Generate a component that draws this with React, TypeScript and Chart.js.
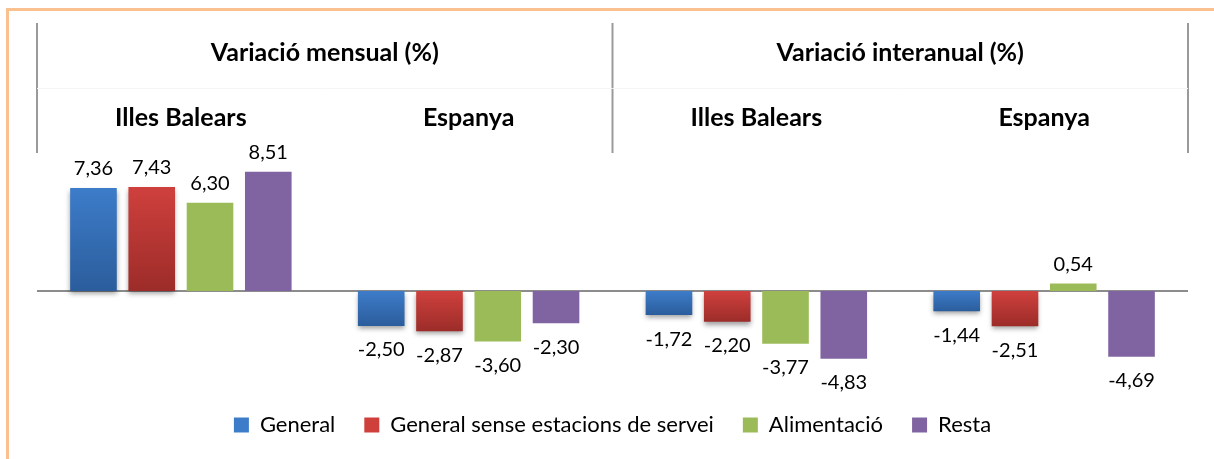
import React, { useEffect, useRef } from "react";
import { Chart, registerables } from "chart.js";

Chart.register(...registerables);

// ---- Data ----
const sections = ["Variació mensual (%)", "Variació interanual (%)"];
const groups = ["Illes Balears", "Espanya", "Illes Balears", "Espanya"];
const seriesNames = ["General", "General sense estacions de servei", "Alimentació", "Resta"];
const general = [7.36, -2.5, -1.72, -1.44];
const generalSense = [7.43, -2.87, -2.2, -2.51];
const alimentacio = [6.3, -3.6, -3.77, 0.54];
const resta = [8.51, -2.3, -4.83, -4.69];

const FONT = "Lato, 'Open Sans', sans-serif";

function grad(top: string, bottom: string) {
  return (c: any) => {
    const chart = c.chart;
    const y = chart.scales && chart.scales.y;
    if (!y || c.type !== "data") return top;
    const v = c.raw as number;
    const p0 = y.getPixelForValue(0);
    const p1 = y.getPixelForValue(v);
    const a = Math.min(p0, p1);
    const b = Math.max(p0, p1);
    if (!isFinite(a) || !isFinite(b) || b - a < 1) return top;
    const g = chart.ctx.createLinearGradient(0, a, 0, b);
    g.addColorStop(0, top);
    g.addColorStop(1, bottom);
    return g;
  };
}

const fmt = (v: number) => v.toFixed(2).replace(".", ",");

const decorPlugin = {
  id: "decor",
  beforeDraw(chart: any) {
    const { ctx, chartArea, scales } = chart;
    const x = scales.x;
    ctx.save();
    // orange frame
    ctx.strokeStyle = "#FAC090";
    ctx.lineWidth = 3;
    ctx.strokeRect(7.5, 9.5, 1400, 800);
    // header vertical lines
    const left = chartArea.left;
    const right = chartArea.right;
    const mid = (x.getPixelForValue(1) + x.getPixelForValue(2)) / 2;
    ctx.strokeStyle = "#9a9a9a";
    ctx.lineWidth = 2;
    [left, mid, right].forEach((px) => {
      ctx.beginPath();
      ctx.moveTo(px, 23);
      ctx.lineTo(px, 153);
      ctx.stroke();
    });
    ctx.strokeStyle = "#f5f5f5";
    ctx.lineWidth = 1;
    ctx.beginPath();
    ctx.moveTo(left, 88.5);
    ctx.lineTo(right, 88.5);
    ctx.stroke();
    // header text
    ctx.fillStyle = "#000";
    ctx.textAlign = "center";
    ctx.textBaseline = "middle";
    ctx.font = "bold 25px " + FONT;
    ctx.fillText(sections[0], (left + mid) / 2, 53);
    ctx.fillText(sections[1], (mid + right) / 2, 53);
    groups.forEach((g, i) => {
      ctx.fillText(g, x.getPixelForValue(i), 118);
    });
    ctx.restore();
  },
  beforeDatasetsDraw(chart: any) {
    const { ctx, chartArea, scales } = chart;
    const y0 = scales.y.getPixelForValue(0);
    ctx.save();
    ctx.strokeStyle = "#8c8c8c";
    ctx.lineWidth = 2;
    ctx.beginPath();
    ctx.moveTo(chartArea.left, y0);
    ctx.lineTo(chartArea.right, y0);
    ctx.stroke();
    ctx.restore();
  },
  beforeDatasetDraw(chart: any, args: any) {
    if (args.index < 2) {
      const ctx = chart.ctx;
      ctx.save();
      ctx.shadowColor = "rgba(0,0,0,0.38)";
      ctx.shadowBlur = 5;
      ctx.shadowOffsetX = 0;
      ctx.shadowOffsetY = 3;
    }
  },
  afterDatasetDraw(chart: any, args: any) {
    if (args.index < 2) chart.ctx.restore();
  },
  afterDatasetsDraw(chart: any) {
    const { ctx } = chart;
    ctx.save();
    ctx.fillStyle = "#000";
    ctx.font = "20px " + FONT;
    ctx.textAlign = "center";
    ctx.textBaseline = "middle";
    chart.data.datasets.forEach((ds: any, di: number) => {
      const meta = chart.getDatasetMeta(di);
      meta.data.forEach((el: any, i: number) => {
        const v = ds.data[i] as number;
        const ty = v >= 0 ? el.y - 19 : el.y + 24;
        ctx.fillText(fmt(v), el.x, ty);
      });
    });
    ctx.restore();
  },
};

export default function App() {
  const ref = useRef<HTMLCanvasElement>(null);
  useEffect(() => {
    document.body.style.margin = "0";
    if (!ref.current) return;
    const colors = [
      ["#3D7CC9", "#2B5D9C"],
      ["#CF403D", "#9C2C29"],
      ["#9BBB59", "#9BBB59"],
      ["#8064A2", "#8064A2"],
    ];
    const values = [general, generalSense, alimentacio, resta];
    const chart = new Chart(ref.current, {
      type: "bar",
      data: {
        labels: groups,
        datasets: values.map((d, i) => ({
          label: seriesNames[i],
          data: d,
          backgroundColor: grad(colors[i][0], colors[i][1]),
          borderWidth: 0,
          categoryPercentage: 0.81,
          barPercentage: 0.8,
        })),
      },
      options: {
        responsive: false,
        animation: false,
        layout: { padding: { left: 37, right: 26, top: 151, bottom: 13 } },
        scales: {
          x: { display: false },
          y: { display: false, min: -6.71, max: 10 },
        },
        plugins: {
          tooltip: { enabled: false },
          legend: {
            position: "bottom",
            labels: {
              color: "#000",
              font: { family: FONT, size: 22 },
              boxWidth: 15,
              boxHeight: 15,
              padding: 29,
              generateLabels: (ch: any) =>
                ch.data.datasets.map((ds: any, i: number) => ({
                  text: ds.label,
                  fillStyle: colors[i][0],
                  strokeStyle: colors[i][0],
                  lineWidth: 0,
                  hidden: false,
                  datasetIndex: i,
                })),
            },
          },
        },
      },
      plugins: [decorPlugin],
    });
    return () => chart.destroy();
  }, []);
  return (
    <div style={{ width: 1214, height: 459 }}>
      <canvas ref={ref} width={1214} height={459} style={{ display: "block" }} />
    </div>
  );
}
